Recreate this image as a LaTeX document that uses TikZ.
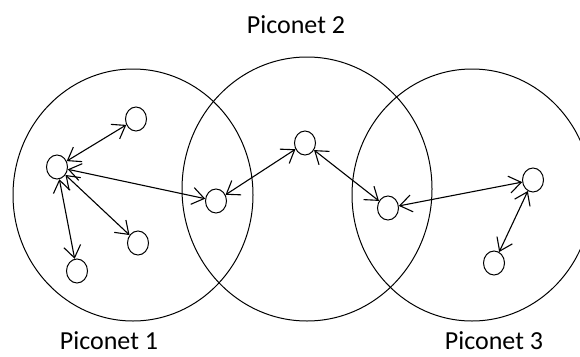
\documentclass[tikz,border=0pt]{standalone}
\usepackage{fontspec}
\setmainfont{Carlito}
\usetikzlibrary{arrows.meta}
\usetikzlibrary{shapes.geometric}

\begin{document}
\begin{tikzpicture}[x=1pt,y=-1pt,
  dev/.style={draw,ellipse,minimum width=21pt,minimum height=24pt,inner sep=0pt,line width=1pt},
  link/.style={{Straight Barb[length=12pt,width=17pt]}-{Straight Barb[length=12pt,width=17pt]},line width=1.1pt},
  net/.style={line width=1pt},
  label/.style={anchor=base,inner sep=0pt,font=\fontsize{26}{30}\selectfont}]
\useasboundingbox (0,0) rectangle (580,356);

% piconet ranges
\draw[net] (133,195) ellipse [x radius=120, y radius=126];
\draw[net] (307,189) ellipse [x radius=125, y radius=132];
\draw[net] (472,195) ellipse [x radius=120, y radius=126];

\node[label] (L1) at (109,349) {Piconet 1};
\node[label] (L2) at (296,33) {Piconet 2};
\node[label] (L3) at (494,349) {Piconet 3};

% piconet 1
\node[dev] (A0) at (57,167) {};
\node[dev] (A1) at (136,119) {};
\node[dev] (A2) at (138,243) {};
\node[dev] (A3) at (77,271) {};

% piconet 2
\node[dev] (B0) at (216,201) {};
\node[dev] (B1) at (305,143) {};
\node[dev] (B2) at (388,208) {};

% piconet 3
\node[dev] (C0) at (533,180) {};
\node[dev] (C1) at (494,263) {};

\draw[link] (A0) -- (A1);
\draw[link] (A0) -- (A2);
\draw[link] (A0) -- (A3);
\draw[link] (A0) -- (B0);

\draw[link] (B0) -- (B1);
\draw[link] (B1) -- (B2);

\draw[link] (B2) -- (C0);
\draw[link] (C0) -- (C1);

\end{tikzpicture}
\end{document}
